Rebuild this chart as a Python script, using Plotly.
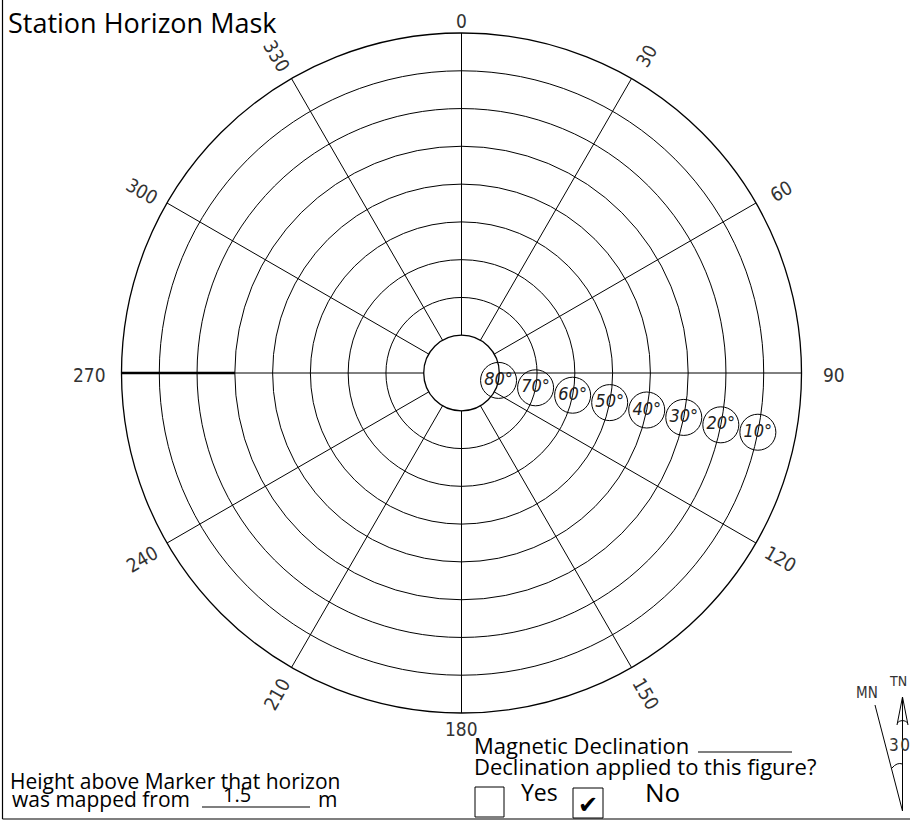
import numpy as np
import plotly.graph_objects as go

# ---------------- data ----------------
azimuth_ticks = [0, 30, 60, 90, 120, 150, 180, 210, 240, 270, 300, 330]
azimuth_labels = ["0", "30", "60", "90", "120", "150", "180", "210", "240", "270", "300", "330"]
elevation_rings = [10, 20, 30, 40, 50, 60, 70]          # inner grid rings (degrees elevation)
elevation_label_values = [80, 70, 60, 50, 40, 30, 20, 10]
elevation_label_azimuth = 101.3
mask_azimuth = [270, 270]
mask_elevation = [0, 30]
antenna_height = "1.5"
declination_text = "3\u200a0"

# ---------------- geometry helpers ----------------
W, H = 910, 823
CX, CY, R = 461.5, 373.0, 340.0


def px(x):
    return x / W


def py(y):
    return 1 - y / H


def zen(e):
    return 90 - np.asarray(e, dtype=float)


CAD = "DejaVu Sans Condensed, DejaVu Sans"
FONT = "Open Sans, Noto Sans, sans-serif"

fig = go.Figure()

# elevation labels (circled)
fig.add_trace(go.Scatterpolar(
    r=zen(elevation_label_values),
    theta=[elevation_label_azimuth] * len(elevation_label_values),
    mode="markers+text",
    text=[f"{v}\u00b0" for v in elevation_label_values],
    textposition="middle center",
    textfont=dict(family=CAD, size=18, color="#222", style="italic"),
    marker=dict(symbol="circle-open", size=36, color="black", line=dict(width=1, color="black")),
    hoverinfo="skip", showlegend=False,
))

# horizon mask
fig.add_trace(go.Scatterpolar(
    r=zen(mask_elevation), theta=mask_azimuth, mode="lines",
    line=dict(color="black", width=2.5), hoverinfo="skip", showlegend=False,
))

fig.update_layout(
    width=W, height=H,
    margin=dict(l=0, r=0, t=0, b=0),
    paper_bgcolor="white",
    showlegend=False,
    polar=dict(
        domain=dict(x=[px(CX - R), px(CX + R)], y=[py(CY + R), py(CY - R)]),
        hole=1 / 9,
        bgcolor="white",
        radialaxis=dict(range=[10, 90], tickvals=list(zen(elevation_rings)),
                        showticklabels=False, ticks="", showline=False,
                        gridcolor="black", gridwidth=1),
        angularaxis=dict(rotation=90, direction="clockwise", tickvals=azimuth_ticks,
                         showticklabels=False, ticks="", gridcolor="black", gridwidth=1,
                         linecolor="black", linewidth=1.3, showline=True),
    ),
)

ann = []
shapes = []

# azimuth labels
for a, lab in zip(azimuth_ticks, azimuth_labels):
    if a % 180 == 0:
        k, ang = 1.04, 0
    elif a % 180 == 90:
        k, ang = 1.095, 0
    else:
        k, ang = 1.085, (a % 180) - 90
    rad = np.radians(a)
    x = CX + k * R * np.sin(rad)
    y = CY + 2 - k * R * np.cos(rad)
    ann.append(dict(x=px(x), y=py(y), xref="paper", yref="paper", text=lab, showarrow=False,
                    xanchor="center", yanchor="middle", textangle=ang,
                    font=dict(family=CAD, size=19, color="#333")))


def txt(x, y, s, size, anchor="left", family=FONT, color="black"):
    ann.append(dict(x=px(x), y=py(y), xref="paper", yref="paper", text=s, showarrow=False,
                    xanchor=anchor, yanchor="middle", font=dict(family=family, size=size, color=color)))


def line(x0, y0, x1, y1, w=1.0):
    shapes.append(dict(type="line", xref="paper", yref="paper", x0=px(x0), x1=px(x1),
                       y0=py(y0), y1=py(y1), line=dict(color="black", width=w)))


# title
txt(6, 22, "Station Horizon Mask", 27)

# bottom-left text
txt(8, 781, "Height above Marker that horizon", 21)
txt(10, 799, "was mapped from", 21)
txt(237, 794, antenna_height, 20, anchor="center")
txt(316, 799, "m", 21)
line(202, 807, 310, 807, 1.2)

# declination block
txt(472, 745, "Magnetic Declination", 22)
line(698, 752, 792, 752, 1.2)
txt(472, 766, "Declination applied to this figure?", 22)
txt(519, 792, "Yes", 23)
txt(643, 792, "No", 26)
shapes.append(dict(type="rect", xref="paper", yref="paper", x0=px(475), x1=px(504), y0=py(787), y1=py(817),
                   line=dict(color="black", width=1)))
shapes.append(dict(type="rect", xref="paper", yref="paper", x0=px(573), x1=px(603), y0=py(788), y1=py(818),
                   line=dict(color="black", width=1)))
txt(588, 805, "\u2714", 24, anchor="center", family="DejaVu Sans")

# north arrow (TN / MN)
line(902.5, 697, 902.5, 811)
shapes.append(dict(type="path", xref="paper", yref="paper",
                   path=f"M {px(897)},{py(725)} L {px(902.5)},{py(697)} L {px(908)},{py(725)} "
                        f"M {px(897)},{py(723)} Q {px(902.5)},{py(718)} {px(908)},{py(723)}",
                   line=dict(color="black", width=1)))
line(875, 705, 902.5, 811)
shapes.append(dict(type="path", xref="paper", yref="paper",
                   path=f"M {px(892)},{py(768)} Q {px(897)},{py(762)} {px(902.5)},{py(764)}",
                   line=dict(color="black", width=1)))
txt(909, 681, "TN", 14, anchor="right", family=CAD, color="#333")
txt(867, 693, "MN", 15, anchor="center", family=CAD, color="#333")
txt(899, 745, declination_text, 17, anchor="center", family=CAD, color="#333")

# form frame (left and bottom edges)
line(2.5, 0, 2.5, 819, 1.2)
line(2.5, 819, 910, 819, 1.2)

fig.update_layout(annotations=ann, shapes=shapes)
fig.write_html("out.html", config={"displayModeBar": False},
               post_script="document.body.style.margin='0';document.body.style.overflow='hidden';")
